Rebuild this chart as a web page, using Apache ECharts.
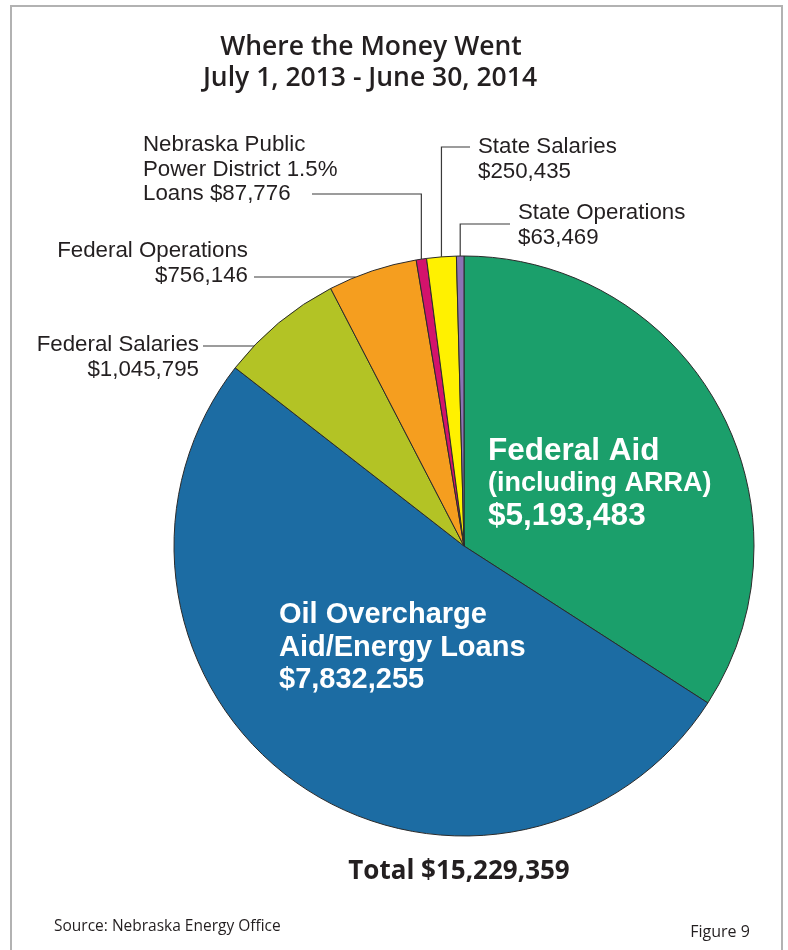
<!DOCTYPE html>
<html>
<head>
<meta charset="utf-8">
<script src="https://cdn.jsdelivr.net/npm/echarts@6/dist/echarts.min.js"></script>
<style>
html,body{margin:0;padding:0;background:#fff;}
#chart{width:788px;height:950px;}
</style>
</head>
<body>
<div id="chart"></div>
<script>
// ---- data ----
const categories = [
  'Federal Aid (including ARRA)',
  'Oil Overcharge Aid/Energy Loans',
  'Federal Salaries',
  'Federal Operations',
  'Nebraska Public Power District 1.5% Loans',
  'State Salaries',
  'State Operations'
];
const values = [5193483, 7832255, 1045795, 756146, 87776, 250435, 63469];
// label text lines; "{v}" is replaced by the formatted value
const labelLines = [
  ['Federal Aid', '(including ARRA)', '{v}'],
  ['Oil Overcharge', 'Aid/Energy Loans', '{v}'],
  ['Federal Salaries', '{v}'],
  ['Federal Operations', '{v}'],
  ['Nebraska Public', 'Power District 1.5%', 'Loans {v}'],
  ['State Salaries', '{v}'],
  ['State Operations', '{v}']
];
const titleLines = ['Where the Money Went', 'July 1, 2013 - June 30, 2014'];
const totalLabel = 'Total';
const sourceText = 'Source: Nebraska Energy Office';
const figureText = 'Figure 9';

// ---- styles / layout ----
const colors = ['#1b9f6b', '#1c6ca3', '#b3c325', '#f59e1f', '#d3136c', '#fff100', '#8c73b5'];
const CX = 464, CY = 546, R = 290;
const labelPos = [
  {x: 488, y: 435, align: 'left'},
  {x: 279, y: 599, align: 'left'},
  {x: 199, y: 333, align: 'right'},
  {x: 248, y: 239, align: 'right'},
  {x: 143, y: 133, align: 'left'},
  {x: 478, y: 135, align: 'left'},
  {x: 518, y: 201, align: 'left'}
];
// leader line shapes: 'h' = horizontal at y to x end; 'v' = up from slice then across
const leaders = [
  null, null,
  {type: 'h', y: 346, x: 203},
  {type: 'h', y: 277, x: 254},
  {type: 'v', y: 194, x: 312},
  {type: 'v', y: 147, x: 470},
  {type: 'v', y: 224, x: 510}
];

const fmt = v => '$' + v.toLocaleString('en-US');
const total = values.reduce((a, b) => a + b, 0);

function midPoint(i) {
  let cum = 0;
  for (let k = 0; k < i; k++) cum += values[k];
  const th = 2 * Math.PI * (cum + values[i] / 2) / total;
  return [CX + R * Math.sin(th), CY - R * Math.cos(th)];
}

function labelText(i) {
  const lines = labelLines[i].map(s => s.replace('{v}', fmt(values[i])));
  if (i === 0) return '{a|' + lines[0] + '}\n{b|' + lines[1] + '}\n{a|' + lines[2] + '}';
  if (i === 1) return lines.map(s => '{c|' + s + '}').join('\n');
  return lines.join('\n');
}

const data = categories.map((name, i) => {
  const d = {name: name, value: values[i], itemStyle: {color: colors[i]}};
  if (i < 2) {
    d.label = {position: 'inside'};
    d.labelLine = {show: false};
  }
  return d;
});

const FONT_T = '"Open Sans", sans-serif';
const chart = echarts.init(document.getElementById('chart'), null, {renderer: 'canvas'});
chart.setOption({
  animation: false,
  backgroundColor: '#fff',
  graphic: [
    {type: 'rect', shape: {x: 11, y: 6, width: 771, height: 1000},
     style: {fill: 'none', stroke: '#b2b2b2', lineWidth: 2}, silent: true},
    {type: 'text', x: 371, y: 47, silent: true,
     style: {text: titleLines[0], fill: '#231f20', font: '600 26.5px ' + FONT_T, textAlign: 'center', textVerticalAlign: 'middle'}},
    {type: 'text', x: 370, y: 78, silent: true,
     style: {text: titleLines[1], fill: '#231f20', font: '600 26.5px ' + FONT_T, textAlign: 'center', textVerticalAlign: 'middle'}},
    {type: 'text', x: 459, y: 872, silent: true,
     style: {text: totalLabel + ' ' + fmt(total), fill: '#231f20', font: 'bold 26px ' + FONT_T, textAlign: 'center', textVerticalAlign: 'middle'}},
    {type: 'text', x: 54, y: 927, silent: true,
     style: {text: sourceText, fill: '#231f20', font: '15.5px ' + FONT_T, textAlign: 'left', textVerticalAlign: 'middle'}},
    {type: 'text', x: 720, y: 932, silent: true,
     style: {text: figureText, fill: '#231f20', font: '16px ' + FONT_T, textAlign: 'center', textVerticalAlign: 'middle'}}
  ],
  series: [{
    type: 'pie',
    center: [CX, CY],
    radius: R,
    startAngle: 90,
    clockwise: true,
    avoidLabelOverlap: false,
    silent: true,
    emphasis: {disabled: true},
    itemStyle: {borderColor: '#2b2b2b', borderWidth: 1},
    label: {
      show: true,
      position: 'outside',
      formatter: p => labelText(p.dataIndex),
      color: '#231f20',
      fontFamily: '"Liberation Sans", Arial, sans-serif',
      fontSize: 22.3,
      lineHeight: 24.5,
      rich: {
        a: {color: '#fff', fontWeight: 'bold', fontSize: 31.5, lineHeight: 33, fontFamily: '"Liberation Sans", Arial, sans-serif'},
        b: {color: '#fff', fontWeight: 'bold', fontSize: 27, lineHeight: 32, fontFamily: '"Liberation Sans", Arial, sans-serif'},
        c: {color: '#fff', fontWeight: 'bold', fontSize: 29, lineHeight: 32.5, fontFamily: '"Liberation Sans", Arial, sans-serif'}
      }
    },
    labelLine: {show: true, length: 10, length2: 10, lineStyle: {color: '#3a3a3a', width: 1.2}},
    labelLayout: function (params) {
      const i = params.dataIndex;
      const p = labelPos[i];
      const res = {x: p.x, y: p.y, align: p.align, verticalAlign: 'top'};
      const ld = leaders[i];
      if (ld) {
        if (ld.type === 'h') {
          const ax = CX - Math.sqrt(R * R - (ld.y - CY) * (ld.y - CY));
          res.labelLinePoints = [[ax, ld.y], [(ax + ld.x) / 2, ld.y], [ld.x, ld.y]];
        } else {
          const m = midPoint(i);
          res.labelLinePoints = [[m[0], m[1]], [m[0], ld.y], [ld.x, ld.y]];
        }
      }
      return res;
    },
    data: data
  }]
});
</script>
</body>
</html>
